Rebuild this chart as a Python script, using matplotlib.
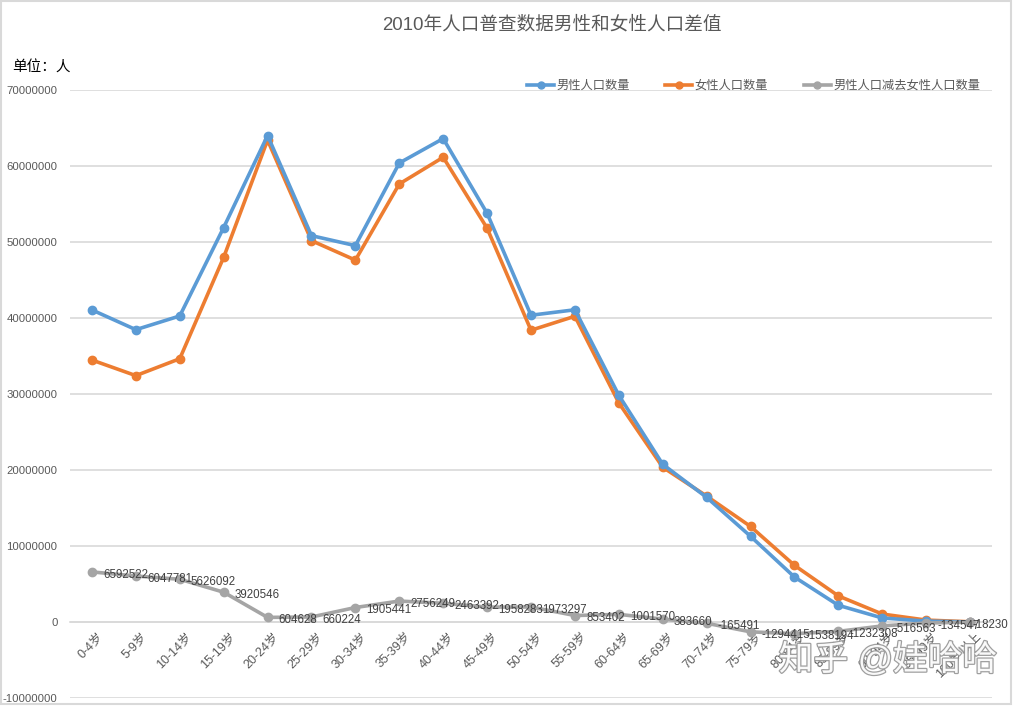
import matplotlib
matplotlib.use("Agg")
import matplotlib.pyplot as plt
import matplotlib.patheffects as pe
import matplotlib.transforms as mtransforms
from matplotlib.patches import Rectangle
from matplotlib.lines import Line2D

plt.rcParams['font.family'] = ['Liberation Sans', 'Noto Sans CJK SC', 'DejaVu Sans']

categories = ["0-4岁", "5-9岁", "10-14岁", "15-19岁", "20-24岁", "25-29岁", "30-34岁",
              "35-39岁", "40-44岁", "45-49岁", "50-54岁", "55-59岁", "60-64岁", "65-69岁",
              "70-74岁", "75-79岁", "80-84岁", "85-89岁", "90-94岁", "95-99岁", "100岁以上"]
male = [41062566, 38464665, 40267277, 51904830, 64008573, 50837038, 49521822,
        60391104, 63608678, 53776418, 40363234, 41082938, 29834426, 20748471,
        16403453, 11278859, 5917502, 2199810, 530872, 117716, 8852]
female = [34470044, 32416884, 34641185, 47984284, 63403945, 50176814, 47616381,
          57634855, 61145286, 51818135, 38389937, 40229536, 28832856, 20364811,
          16568944, 12573274, 7455696, 3432118, 1047435, 252263, 27082]
diff = [6592522, 6047781, 5626092, 3920546, 604628, 660224, 1905441,
        2756249, 2463392, 1958283, 1973297, 853402, 1001570, 383660,
        -165491, -1294415, -1538194, -1232308, -516563, -134547, -18230]
yticks = [-10000000, 0, 10000000, 20000000, 30000000, 40000000, 50000000, 60000000, 70000000]
series_names = ["男性人口数量", "女性人口数量", "男性人口减去女性人口数量"]

BLUE, ORANGE, GRAY = "#5B9BD5", "#ED7D31", "#A5A5A5"
TXT = "#595959"

W, H = 1014, 707
fig = plt.figure(figsize=(W / 100, H / 100), dpi=100)
ax = fig.add_axes([70 / W, 1 - 698 / H, (992 - 70) / W, (698 - 90) / H])

x = list(range(len(categories)))
lw = 2.6
ms = 6
ax.plot(x, male, color=BLUE, lw=lw, marker='o', ms=ms, zorder=4)
ax.plot(x, female, color=ORANGE, lw=lw, marker='o', ms=ms, zorder=3)
ax.plot(x, diff, color=GRAY, lw=lw, marker='o', ms=ms, zorder=5)

labels = []
for xi, v in zip(x, diff):
    t = ax.annotate(str(v), (xi, v), xytext=(8, -2), textcoords='offset points',
                    ha='left', va='center', fontsize=8.3, color="#404040", zorder=6)
    labels.append(t)

ax.set_xlim(-0.5, len(categories) - 0.5)
ax.set_ylim(-10000000, 70000000)
ax.set_yticks(yticks)
ax.set_yticklabels([str(t) for t in yticks], fontsize=8.2, color=TXT)
ax.yaxis.grid(True, color="#D9D9D9", lw=1.2)
ax.set_axisbelow(True)
ax.tick_params(axis='y', length=0, pad=9)

for s in ['top', 'right', 'left']:
    ax.spines[s].set_visible(False)
ax.spines['bottom'].set_position(('data', 0))
ax.spines['bottom'].set_color("#D9D9D9")
ax.spines['bottom'].set_linewidth(1.2)
ax.set_xticks(x)
ax.set_xticklabels(categories, rotation=45, ha='right', va='top',
                   rotation_mode='anchor', fontsize=9, color=TXT)
ax.tick_params(axis='x', length=0, pad=6)
shift = mtransforms.ScaledTranslation(4 / 72, 0, fig.dpi_scale_trans)
for lbl in ax.get_xticklabels():
    lbl.set_transform(lbl.get_transform() + shift)

fig.text(552 / W, 1 - 25 / H, "2010年人口普查数据男性和女性人口差值", ha='center', va='center',
         fontsize=13.4, color=TXT)
fig.text(12 / W, 1 - 68 / H, "单位：人", ha='left', va='center', fontsize=10.5, color='black')

handles = [Line2D([], [], color=c, lw=lw, marker='o', ms=5) for c in (BLUE, ORANGE, GRAY)]
leg = fig.legend(handles, series_names, loc='center right', bbox_to_anchor=(980 / W, 1 - 86 / H),
                 ncol=3, frameon=False, fontsize=8.8, handlelength=2.2, handletextpad=0.2,
                 columnspacing=2.9, labelcolor=TXT, borderaxespad=0, borderpad=0)

fig.text(888 / W, 1 - 660 / H, "知乎 @娃哈哈", ha='center', va='center', fontsize=25,
         color='white', alpha=0.95, zorder=10,
         path_effects=[pe.withStroke(linewidth=1.8, foreground="#9A9A9A")])

fig.patches.append(Rectangle((0.001, 0.004), 0.996, 0.994, transform=fig.transFigure,
                             fill=False, edgecolor="#D9D9D9", lw=1.5))

# keep data labels inside the chart like the spreadsheet does
fig.canvas.draw()
renderer = fig.canvas.get_renderer()
limit = 1008
for t in labels:
    bb = t.get_window_extent(renderer)
    if bb.x1 > limit:
        dx_pts = (bb.x1 - limit) * 72 / fig.dpi
        ox, oy = t.xyann
        t.xyann = (ox - dx_pts, oy)

fig.savefig("out.png", dpi=100)
